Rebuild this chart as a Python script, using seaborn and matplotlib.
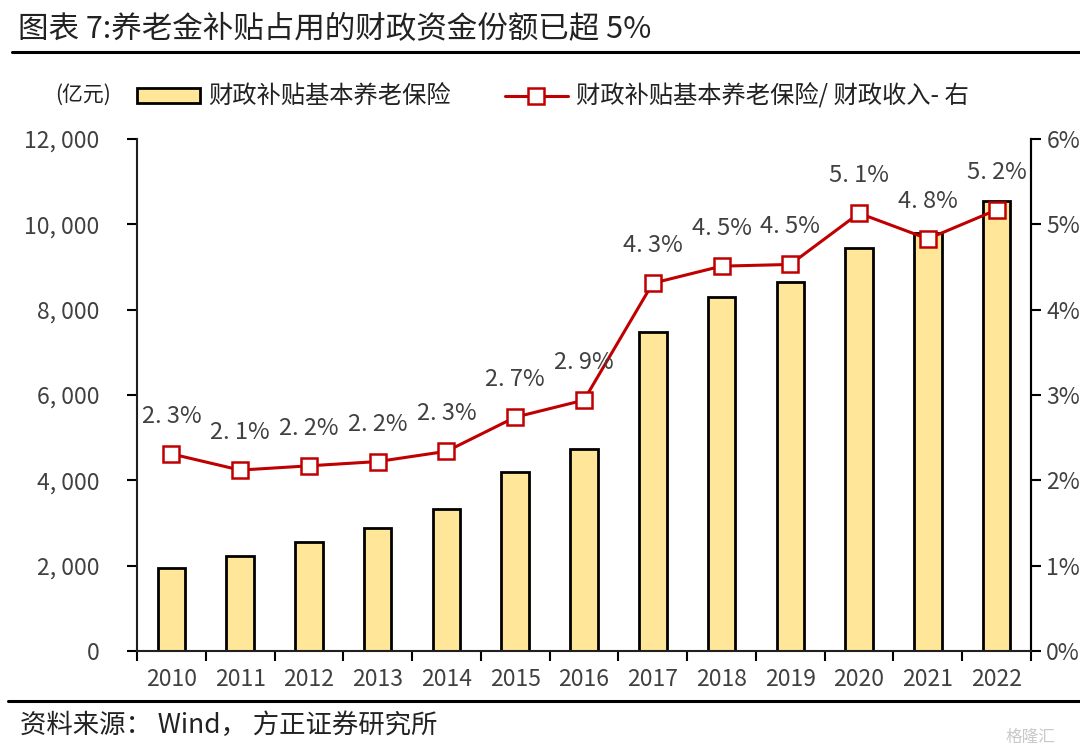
import matplotlib
matplotlib.use("Agg")
import matplotlib.pyplot as plt
import seaborn as sns
import numpy as np
import pandas as pd
from matplotlib.lines import Line2D
from matplotlib.patches import Patch
from matplotlib.ticker import FuncFormatter, FixedLocator

years = ["2010", "2011", "2012", "2013", "2014", "2015", "2016",
         "2017", "2018", "2019", "2020", "2021", "2022"]
subsidy = [1950, 2225, 2555, 2885, 3325, 4195, 4735,
           7475, 8295, 8650, 9445, 9800, 10550]
ratio = [2.31, 2.12, 2.17, 2.22, 2.34, 2.74, 2.94,
         4.31, 4.51, 4.53, 5.13, 4.83, 5.17]

title = "图表 7:养老金补贴占用的财政资金份额已超 5%"
bar_label = "财政补贴基本养老保险"
line_label = "财政补贴基本养老保险/ 财政收入- 右"
unit_label = "(亿元)"
source = "资料来源： Wind， 方正证券研究所"

sns.set_theme(style="white")
plt.rcParams['font.family'] = ['Noto Sans CJK SC', 'DejaVu Sans']
plt.rcParams['axes.unicode_minus'] = False

df = pd.DataFrame({"year": years, "subsidy": subsidy, "ratio": ratio})

fig = plt.figure(figsize=(10.8, 7.53), dpi=100)
ax = fig.add_axes([137/1080, 1-651/753, (1031-137)/1080, (651-139)/753])

bar_color = "#FFE699"
red = "#C00000"
txt = "#404040"

sns.barplot(data=df, x="year", y="subsidy", ax=ax, color=bar_color,
            width=0.4, edgecolor="black", linewidth=2, saturation=1)
ax.set_ylim(0, 12000)
ax.set_xlim(-0.5, len(years) - 0.5)
ax.set_xlabel("")
ax.set_ylabel("")
ax.yaxis.set_major_locator(FixedLocator(np.arange(0, 12001, 2000)))
ax.yaxis.set_major_formatter(FuncFormatter(lambda v, p: f"{v:,.0f}".replace(",", ", ")))
ax.tick_params(axis="y", direction="out", length=7, width=1.5, color="black",
               labelsize=16.5, labelcolor=txt, pad=20, left=True)
ax.set_xticks(np.arange(len(years)))
ax.set_xticklabels(years)
ax.set_xticks(np.arange(-0.5, len(years), 1), minor=True)
ax.tick_params(axis="x", which="major", length=0, labelsize=16.5, labelcolor=txt, pad=12)
ax.tick_params(axis="x", which="minor", direction="out", length=7, width=1.5,
               color="black", bottom=True)
for s in ["left", "bottom", "right"]:
    ax.spines[s].set_visible(True)
    ax.spines[s].set_color("black")
    ax.spines[s].set_linewidth(1.5)
ax.spines["top"].set_visible(False)

ax2 = ax.twinx()
sns.pointplot(data=df, x="year", y="ratio", ax=ax2, color=red, markers="s",
              linestyles="-", errorbar=None, native_scale=False)
for ln in ax2.lines:
    ln.set_markerfacecolor("white")
    ln.set_markeredgecolor(red)
    ln.set_markersize(11)
    ln.set_markeredgewidth(1.8)
    ln.set_linewidth(2.2)
    ln.set_zorder(5)
for c in ax2.collections:
    c.set_visible(False)
ax2.set_ylim(0, 6)
ax2.set_xlim(-0.5, len(years) - 0.5)
ax2.set_ylabel("")
ax2.set_xlabel("")
ax2.yaxis.set_major_locator(FixedLocator(np.arange(0, 7, 1)))
ax2.yaxis.set_major_formatter(FuncFormatter(lambda v, p: f"{v:.0f}%"))
ax2.tick_params(axis="y", direction="out", length=7, width=1.5, color="black",
                labelsize=16.5, labelcolor=txt, pad=4, right=True)
ax2.spines["top"].set_visible(False)
ax2.spines["right"].set_color("black")
ax2.spines["right"].set_linewidth(1.5)
ax2.grid(False)
ax.grid(False)

for i, v in enumerate(ratio):
    ax2.annotate(f"{v:.1f}%".replace(".", ". "), (i, v), xytext=(0, 27),
                 textcoords="offset points", ha="center", va="center",
                 fontsize=17, color=txt, zorder=6)

# legend
handles = [Patch(facecolor=bar_color, edgecolor="black", linewidth=2),
           Line2D([0], [0], color=red, linewidth=2.2, marker="s", markersize=11,
                  markerfacecolor="white", markeredgecolor=red, markeredgewidth=1.8)]
fig.legend(handles, [bar_label, line_label], loc="center left",
           bbox_to_anchor=(115/1080, 1-97/753), ncol=2, frameon=False,
           fontsize=17.5, handlelength=2.6, handleheight=0.6, handletextpad=0.35,
           columnspacing=2.2, labelcolor="#222222")
fig.text(55/1080, 1-95/753, unit_label, fontsize=15, color="#222222",
         ha="left", va="center")

# title and rules
fig.text(18/1080, 1-30/753, title, fontsize=22, color="#222222", ha="left", va="center")
fig.add_artist(Line2D([12/1080, 1], [1-52/753, 1-52/753], color="black", linewidth=2.2))
fig.add_artist(Line2D([8/1080, 1], [1-701/753, 1-701/753], color="black", linewidth=2.2))
fig.text(20/1080, 1-725/753, source, fontsize=19, color="#222222",
         ha="left", va="center", style="italic")
fig.text(1030/1080, 1-737/753, "格隆汇", fontsize=12, color="#c8c8c8",
         ha="center", va="center")

fig.savefig("out.png", dpi=100)
